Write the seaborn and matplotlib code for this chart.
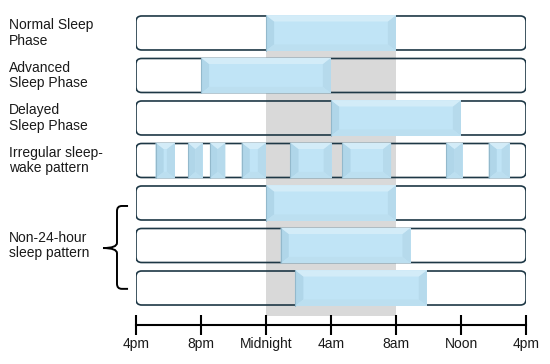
import matplotlib
matplotlib.use("Agg")
import matplotlib.pyplot as plt
import seaborn as sns
import pandas as pd
from matplotlib.patches import FancyBboxPatch, Polygon, PathPatch
from matplotlib.path import Path

# rows, top to bottom
row_labels = ["Normal Sleep\nPhase", "Advanced\nSleep Phase", "Delayed\nSleep Phase",
              "Irregular sleep-\nwake pattern", "", "Non-24-hour\nsleep pattern", ""]
# sleep periods, hours after 4pm
sleep_start = [[8], [4], [12], [1.2, 3.2, 4.55, 6.5, 9.5, 12.7, 19.1, 21.7], [8], [8.9], [9.8]]
sleep_end = [[16], [12], [20], [2.4, 4.1, 5.5, 8.0, 12.05, 15.7, 20.1, 23.0], [16], [16.9], [17.9]]
tick_hours = [0, 4, 8, 12, 16, 20, 24]
tick_labels = ["4pm", "8pm", "Midnight", "4am", "8am", "Noon", "4pm"]
night_start, night_end = 8, 16

segs = pd.DataFrame([
    {"row": i, "start": s, "end": e}
    for i in range(len(row_labels))
    for s, e in zip(sleep_start[i], sleep_end[i])
])

sns.set_theme(style="white")
plt.rcParams["font.family"] = ["Liberation Sans", "DejaVu Sans"]

fig = plt.figure(figsize=(5.5, 3.64), dpi=100)
ax = fig.add_axes([136 / 550, 0, 390 / 550, 1])
ax.set_xlim(0, 24)
ax.set_ylim(7.788, -0.776)

bar_h = 0.8
outline = "#1E3846"
blue = "#C0E4F6"

# night band
ax.fill_betweenx([-bar_h / 2, 6.66], night_start, night_end, color="#D9D9D9", lw=0, zorder=0)

# empty day bars
for i in range(len(row_labels)):
    ax.add_patch(FancyBboxPatch((0, i - bar_h / 2), 24, bar_h,
                                boxstyle="round,pad=0,rounding_size=0.35",
                                mutation_aspect=0.382, fc="none", ec=outline,
                                lw=1.2, zorder=2))

# sleep periods
h = bar_h + 0.04
ax.barh(segs["row"], segs["end"] - segs["start"], left=segs["start"], height=h,
        color=blue, lw=0, zorder=3)

# soft bevel shading
for _, r in segs.iterrows():
    x0, x1 = r["start"], r["end"]
    y0, y1 = r["row"] - h / 2, r["row"] + h / 2
    dx = min(0.5, (x1 - x0) / 2)
    dy = 0.15
    ix0, ix1, iy0, iy1 = x0 + dx, x1 - dx, y0 + dy, y1 - dy
    ax.add_patch(Polygon([(x0, y0), (ix0, iy0), (ix0, iy1), (x0, y1)],
                         fc="#B0D6E9", lw=0, zorder=4))
    ax.add_patch(Polygon([(x1, y0), (ix1, iy0), (ix1, iy1), (x1, y1)],
                         fc="#B6DAEC", lw=0, zorder=4))
    ax.add_patch(Polygon([(x0, y0), (x1, y0), (ix1, iy0), (ix0, iy0)],
                         fc="#D3ECF8", lw=0, zorder=4))
    ax.add_patch(Polygon([(x0, y1), (x1, y1), (ix1, iy1), (ix0, iy1)],
                         fc="#BCDFF0", lw=0, zorder=4))
    ax.plot([x0, x0], [y0, y1], color="#93B9CC", lw=0.8, zorder=5)

# row labels
for i, lab in enumerate(row_labels):
    if lab:
        ax.text(-7.82, i, lab, ha="left", va="center", fontsize=10,
                linespacing=1.1, color="#1a1a1a", clip_on=False)

# brace for the non-24-hour rows
xh, xv, xt = -0.49, -1.17, -2.03
top, mid, bot = 4.07, 5.06, 6.02
rx, ry = 0.3, 0.12
verts = [(xh, top), (xv + rx, top), (xv, top), (xv, top + ry), (xv, mid - ry),
         (xv, mid), (xt, mid), (xv, mid), (xv, mid + ry), (xv, bot - ry),
         (xv, bot), (xv + rx, bot), (xh, bot)]
codes = [Path.MOVETO, Path.LINETO, Path.CURVE3, Path.CURVE3, Path.LINETO,
         Path.CURVE3, Path.CURVE3, Path.CURVE3, Path.CURVE3, Path.LINETO,
         Path.CURVE3, Path.CURVE3, Path.LINETO]
ax.add_patch(PathPatch(Path(verts, codes), fc="none", ec="black", lw=1.4,
                       clip_on=False))

# time axis
for s in ["top", "left", "right"]:
    ax.spines[s].set_visible(False)
ax.spines["bottom"].set_position(("data", 6.87))
ax.spines["bottom"].set_color("black")
ax.spines["bottom"].set_linewidth(1.5)
ax.set_xticks(tick_hours)
ax.set_xticklabels(tick_labels)
ax.set_yticks([])
ax.tick_params(axis="x", bottom=True, direction="inout", length=13.7, width=1.5,
               pad=2, labelsize=10, color="black", labelcolor="#1a1a1a")
ax.set_facecolor("none")

fig.savefig("out.png", dpi=100)
